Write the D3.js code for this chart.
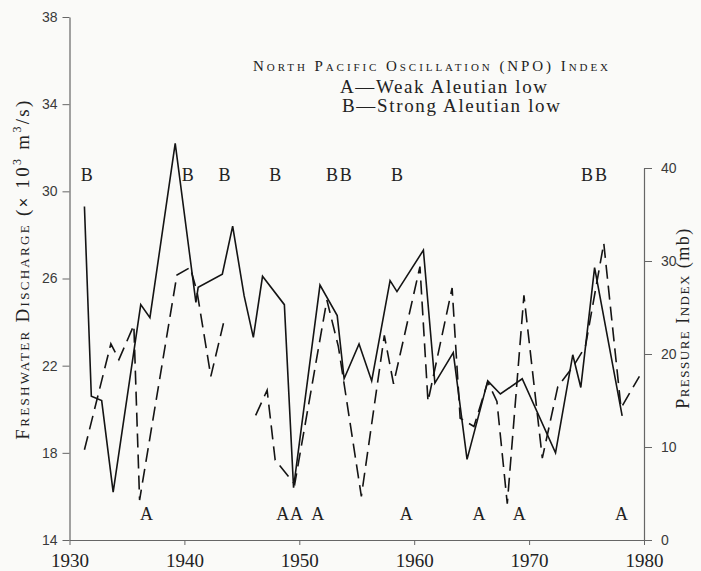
<!DOCTYPE html>
<html><head><meta charset="utf-8">
<script src="https://cdn.jsdelivr.net/npm/d3@7"></script>
<style>html,body{margin:0;padding:0;background:#fafaf8;} svg{display:block}</style>
</head><body>
<svg id="c" width="701" height="571"></svg>
<script>
// Freshwater discharge (x10^3 m3/s), solid line, left axis
const dischargeYears  = [1931.3,1931.9,1932.8,1933.8,1936.2,1937.0,1939.2,1941.0,1941.2,1943.3,1944.2,1945.2,1946.0,1946.8,1948.7,1949.5,1951.8,1953.3,1953.9,1955.2,1956.3,1957.9,1958.5,1960.8,1961.8,1963.4,1964.6,1966.4,1967.5,1969.4,1972.3,1973.8,1974.5,1975.7,1978.1];
const dischargeValues = [29.3,20.6,20.4,16.2,24.8,24.2,32.2,24.9,25.6,26.2,28.4,25.2,23.3,26.1,24.8,16.4,25.7,24.3,21.4,23.0,21.3,25.9,25.4,27.3,21.2,22.6,17.7,21.3,20.7,21.4,18.0,22.5,21.0,26.5,19.7];
// NPO pressure index (mb), dashed line, right axis (null = missing)
const pressureYears  = [1931.3,1933.6,1934.3,1935.6,1936.1,1939.35,1940.5,1941.1,1942.3,1943.4,1944.8,1946.2,1947.2,1947.9,1949.6,1952.4,1953.4,1955.4,1957.4,1958.2,1960.5,1961.2,1963.3,1964.0,1965.2,1966.4,1967.2,1968.1,1969.55,1971.15,1972.5,1973.8,1974.9,1976.5,1978.0,1979.6];
const pressureValues = [9.7,21.1,19.4,23.1,4.3,28.5,29.3,26.7,17.6,23.3,null,13.4,16.1,8.6,6.0,25.8,20.8,4.7,22.0,16.8,29.4,14.9,27.1,13.1,12.2,17.0,14.9,3.9,26.3,8.8,16.5,18.6,20.8,31.9,14.2,17.6];
// NPO labels: B = strong Aleutian low, A = weak Aleutian low
const strongYears = [1931.5,1940.3,1943.5,1947.9,1952.85,1954.05,1958.5,1975.05,1976.25];
const weakYears   = [1936.7,1948.55,1949.75,1951.6,1959.3,1965.65,1969.15,1978.05];
const xTicks = [1930,1940,1950,1960,1970,1980];
const leftTicks = [14,18,22,26,30,34,38];
const rightTicks = [0,10,20,30,40];

const svg = d3.select("#c");
const x = d3.scaleLinear().domain([1930,1980]).range([69.5,644]);
const yL = d3.scaleLinear().domain([14,38]).range([540,17]);
const yR = d3.scaleLinear().domain([0,40]).range([540,168]);

const axisColor = "#666";
function styleAxis(g, font, size, fill){
  g.select(".domain").attr("stroke",axisColor).attr("stroke-width",1.2);
  g.selectAll(".tick line").attr("stroke",axisColor).attr("stroke-width",1);
  g.selectAll(".tick text").attr("font-family",font).attr("font-size",size).attr("fill",fill);
}
const gx = svg.append("g").attr("transform","translate(0,540)")
  .call(d3.axisBottom(x).tickValues(xTicks).tickSize(5).tickSizeOuter(0).tickPadding(9).tickFormat(d3.format("d")));
styleAxis(gx,"'Liberation Serif','Times New Roman',serif",19,"#222");
const gl = svg.append("g").attr("transform","translate(69.5,0)")
  .call(d3.axisLeft(yL).tickValues(leftTicks).tickSize(7).tickSizeOuter(0).tickPadding(5));
styleAxis(gl,"'Liberation Sans',Arial,sans-serif",14,"#3a3a3a");
const gr = svg.append("g").attr("transform","translate(644,0)")
  .call(d3.axisRight(yR).tickValues(rightTicks).tickSize(8).tickSizeOuter(0).tickPadding(9));
styleAxis(gr,"'Liberation Sans',Arial,sans-serif",14,"#3a3a3a");

// lines
const dis = dischargeYears.map((d,i)=>({x:d,v:dischargeValues[i]}));
const pre = pressureYears.map((d,i)=>({x:d,v:pressureValues[i]}));
svg.append("path").datum(dis)
  .attr("d", d3.line().x(d=>x(d.x)).y(d=>yL(d.v)))
  .attr("fill","none").attr("stroke","#141414").attr("stroke-width",1.6).attr("stroke-linejoin","miter");
svg.append("path").datum(pre)
  .attr("d", d3.line().defined(d=>d.v!==null).x(d=>x(d.x)).y(d=>yR(d.v)))
  .attr("fill","none").attr("stroke","#141414").attr("stroke-width",1.6).attr("stroke-dasharray","14,7");

// A/B labels
const serif = "'Liberation Serif','Times New Roman',serif";
svg.append("g").selectAll("text").data(strongYears).join("text")
  .attr("x",d=>x(d)).attr("y",181).attr("text-anchor","middle")
  .attr("font-family",serif).attr("font-size",18).attr("fill","#222").text("B");
svg.append("g").selectAll("text").data(weakYears).join("text")
  .attr("x",d=>x(d)).attr("y",520).attr("text-anchor","middle")
  .attr("font-family",serif).attr("font-size",18).attr("fill","#222").text("A");

// legend
svg.append("text").attr("x",253).attr("y",71).attr("font-family",serif).attr("font-size",15)
  .style("font-variant","small-caps").attr("fill","#222")
  .attr("textLength",355).attr("lengthAdjust","spacing")
  .text("North Pacific Oscillation (NPO) Index");
svg.append("text").attr("x",340).attr("y",93).attr("font-family",serif).attr("font-size",19)
  .attr("fill","#222").attr("textLength",207).attr("lengthAdjust","spacing").text("A—Weak Aleutian low");
svg.append("text").attr("x",342).attr("y",112).attr("font-family",serif).attr("font-size",19)
  .attr("fill","#222").attr("textLength",218).attr("lengthAdjust","spacing").text("B—Strong Aleutian low");

// axis titles
const lt = svg.append("text").attr("transform","translate(29,269) rotate(-90)")
  .attr("text-anchor","middle").attr("font-family",serif).attr("font-size",19).attr("fill","#222")
  .attr("letter-spacing",2.3);
lt.append("tspan").style("font-variant","small-caps").text("Freshwater Discharge ");
lt.append("tspan").text("(");
lt.append("tspan").attr("font-family","'Liberation Sans',Arial,sans-serif").attr("font-size",16).text("×");
lt.append("tspan").text(" 10");
lt.append("tspan").attr("font-size",12).attr("dy",-8).text("3");
lt.append("tspan").attr("dy",8).text(" m");
lt.append("tspan").attr("font-size",12).attr("dy",-8).text("3");
lt.append("tspan").attr("dy",8).text("/s)");

const rt = svg.append("text").attr("transform","translate(689,318) rotate(-90)")
  .attr("text-anchor","middle").attr("font-family",serif).attr("font-size",18).attr("fill","#222")
  .attr("letter-spacing",1.5);
rt.append("tspan").style("font-variant","small-caps").text("Pressure Index ");
rt.append("tspan").text("(mb)");
</script>
</body></html>
